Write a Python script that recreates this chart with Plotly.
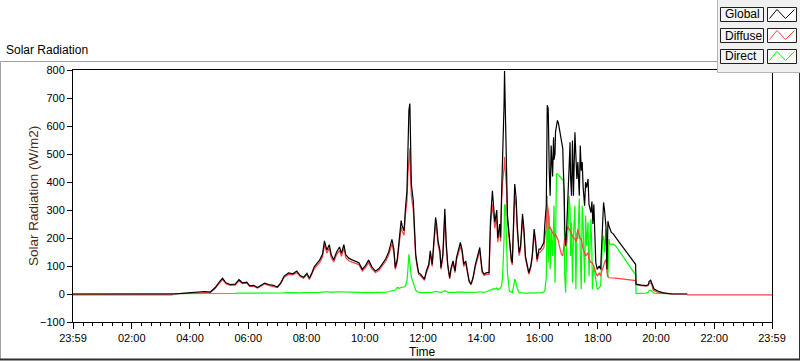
import plotly.graph_objects as go

# ---------------- data (minutes after midnight, W/m2) ----------------
time_min = [
    -1, 203, 206, 230, 254, 270, 282, 292, 301, 307, 314, 323, 333, 341, 348, 357, 363, 371, 379, 385,
    394, 402, 412, 420, 427, 434, 443, 452, 460, 467, 474, 481, 486, 491, 496, 502, 507, 513, 517, 522,
    527, 531, 536, 542, 548, 552, 557, 561, 567, 574, 581, 588, 595, 601, 608, 615, 622, 629, 636, 643,
    649, 656, 660, 663, 667, 672, 675,
    677, 681, 684, 687, 689, 691, 693, 694, 696, 700, 702, 705, 708, 711, 715, 718, 723, 727, 732, 735,
    739, 742, 746, 748, 751, 755, 757, 761, 763, 765, 768, 771, 775, 778, 782, 786, 789, 794, 797, 801,
    804, 808, 811, 815, 819, 823, 828, 833, 837, 839, 842, 846, 851, 856, 859, 863, 866, 868, 872, 874,
    878, 880, 882, 884, 887, 888, 890, 892, 894, 898, 902, 904, 907, 909, 912, 914, 918, 921, 925, 928,
    931, 935, 938, 942, 945, 949, 952, 955, 959, 962, 966, 969, 971, 974,
    976, 978, 980, 982, 984, 987, 989, 990, 992, 993, 995, 997, 999, 1000, 1002, 1004, 1005, 1008, 1009, 1011,
    1012, 1014, 1016, 1019, 1021, 1023, 1024, 1026, 1028, 1030, 1033, 1035, 1037, 1039, 1042, 1044, 1046, 1048, 1050, 1053,
    1055, 1057, 1060, 1062, 1066, 1068, 1069, 1070, 1072, 1076, 1079, 1083, 1086, 1088, 1090, 1092, 1094, 1097, 1099, 1100,
    1101, 1103, 1105, 1108, 1112, 1117,
    1158, 1159, 1170, 1180, 1184, 1186, 1189, 1191, 1194, 1196, 1205, 1213, 1230, 1234, 1264, 1265, 1439,
]

global_wm2 = [
    0, 0, 0, 3, 8, 9, 7, 23, 44, 56, 40, 34, 35, 51, 40, 42, 29, 31, 23, 29,
    39, 34, 31, 25, 40, 64, 75, 72, 82, 66, 60, 74, 56, 75, 97, 110, 121, 142, 190, 157,
    176, 140, 122, 150, 168, 145, 176, 140, 128, 122, 118, 112, 88, 100, 121, 96, 82, 90, 107, 125,
    148, 195, 160, 94, 124, 202, 262,
    244, 226, 309, 369, 513, 656, 680, 513, 393, 333, 250, 142, 106, 76, 71, 65, 53, 82, 106, 154,
    106, 178, 274, 250, 190, 154, 94, 142, 262, 304, 178, 106, 58, 94, 118, 82, 130, 166, 184, 154,
    106, 118, 82, 47, 35, 58, 106, 142, 166, 130, 82, 71, 76, 76, 260, 369, 300, 256, 300, 200,
    250, 202, 363, 459, 674, 796, 662, 459, 280, 196, 124, 112, 291, 393, 340, 250, 148, 170, 286, 232,
    136, 100, 76, 100, 136, 232, 190, 124, 160, 160, 172, 184, 250, 315,
    674, 662, 447, 351, 530, 420, 560, 480, 500, 578, 600, 620, 610, 600, 578, 565, 555, 519, 450, 363,
    232, 172, 232, 351, 471, 542, 420, 351, 548, 351, 578, 471, 411, 471, 351, 530, 440, 471, 380, 315,
    400, 380, 411, 320, 291, 330, 280, 250, 320, 112, 88, 100, 88, 160, 232, 327, 300, 240, 88, 208,
    260, 244, 232, 220, 215, 202,
    106, 35, 32, 30, 33, 45, 49, 40, 22, 18, 10, 5, 1, 0, 0, None, None,
]

diffuse_wm2 = [
    -3, -3, 0, 2, 6, 7, 6, 20, 40, 52, 37, 31, 32, 47, 37, 39, 27, 28, 21, 27,
    36, 31, 28, 23, 37, 60, 70, 68, 76, 62, 56, 69, 52, 70, 90, 102, 112, 132, 175, 146,
    164, 130, 114, 140, 156, 135, 163, 130, 119, 114, 110, 105, 82, 93, 112, 89, 77, 84, 100, 116,
    137, 178, 148, 88, 115, 185, 240,
    225, 210, 285, 330, 430, 500, 520, 440, 350, 300, 230, 130, 98, 70, 66, 60, 49, 76, 98, 142,
    98, 165, 250, 230, 176, 142, 88, 132, 240, 280, 165, 98, 54, 88, 110, 76, 120, 154, 170, 142,
    98, 110, 76, 44, 33, 54, 98, 132, 154, 120, 76, 66, 70, 70, 238, 320, 275, 235, 275, 185,
    230, 188, 330, 400, 450, 489, 430, 380, 260, 182, 115, 104, 265, 350, 310, 230, 137, 158, 262, 214,
    126, 93, 70, 93, 126, 214, 176, 115, 148, 150, 160, 165, 200, 240,
    320, 300, 232, 240, 230, 220, 215, 208, 210, 212, 205, 197, 190, 179, 160, 148, 142, 136, 150, 172,
    200, 170, 228, 240, 232, 226, 220, 215, 208, 200, 197, 186, 200, 232, 208, 197, 197, 172, 160, 148,
    136, 140, 148, 124, 112, 112, 112, 105, 100, 76, 64, 76, 64, 80, 88, 100, 112, 124, 80, 64,
    62, 58, 58, 58, 57, 57,
    48, 33, 30, 28, 30, 38, 40, 35, 15, 12, 6, 3, 0, 0, 0, -3, -3,
]

direct_wm2 = [
    0, 0, 0, 0, 1, 1, 1, 2, 2, 2, 2, 2, 2, 3, 3, 2, 3, 3, 2, 3,
    3, 3, 4, 3, 4, 4, 5, 4, 5, 4, 5, 5, 4, 5, 5, 6, 6, 7, 8, 8,
    7, 8, 7, 8, 8, 7, 8, 7, 6, 6, 7, 6, 5, 6, 6, 5, 5, 6, 6, 7,
    8, 10, 12, 14, 23, 20, 24,
    25, 25, 30, 47, 90, 142, 110, 82, 60, 40, 30, 14, 8, 6, 5, 5, 5, 6, 5, 7,
    6, 8, 10, 9, 8, 7, 6, 8, 10, 12, 9, 7, 5, 6, 5, 6, 7, 8, 8, 7,
    6, 6, 5, 5, 5, 5, 6, 7, 8, 7, 6, 6, 8, 12, 15, 18, 20, 16, 22, 15,
    20, 22, 30, 60, 200, 320, 315, 150, 76, 10, 5, 5, 30, 53, 40, 20, 5, 4, 5, 4,
    3, 3, 3, 3, 3, 4, 4, 3, 4, 5, 5, 8, 10, 60,
    351, 112, 280, 88, 232, 136, 250, 315, 40, 300, 429, 429, 425, 423, 415, 411, 409, 405, 405, 300,
    64, 5, 172, 232, 351, 300, 136, 256, 40, 208, 315, 17, 220, 196, 340, 148, 17, 315, 244, 40,
    280, 172, 256, 64, 268, 150, 17, 60, 100, 40, 17, 22, 29, 112, 196, 208, 148, 232, 70, 64,
    64, 196, 178, 178, 178, 172,
    68, 2, 2, 3, 6, 12, 14, 10, 4, 3, 2, 1, 0, 0, None, None, None,
]

series_names = ["Direct", "Diffuse", "Global"]
series_colors = ["#00ff00", "#ff4040", "#000000"]

x_tick_vals = [-1, 120, 240, 360, 480, 600, 720, 840, 960, 1080, 1200, 1320, 1439]
x_tick_text = ["23:59", "02:00", "04:00", "06:00", "08:00", "10:00", "12:00",
               "14:00", "16:00", "18:00", "20:00", "22:00", "23:59"]
y_tick_vals = [-100, 0, 100, 200, 300, 400, 500, 600, 700, 800]

# ---------------- figure ----------------
W, H = 800, 361
L, R, T, B = 73, 28, 70, 39
PW, PH = W - L - R, H - T - B


def px(x):
    return (x - L) / PW


def py(y):
    return (H - B - y) / PH


FONT = "Liberation Sans, Arial, sans-serif"

fig = go.Figure()
for name, color, vals in zip(series_names, series_colors,
                             [direct_wm2, diffuse_wm2, global_wm2]):
    fig.add_trace(go.Scatter(x=time_min, y=vals, mode="lines", name=name,
                             line=dict(color=color, width=1.2), connectgaps=False,
                             showlegend=False, hoverinfo="skip"))

fig.update_layout(
    width=W, height=H,
    margin=dict(l=L, r=R, t=T, b=B, pad=0),
    paper_bgcolor="white", plot_bgcolor="white",
    font=dict(family=FONT, size=11, color="black"),
    showlegend=False,
)

fig.update_xaxes(
    range=[-1, 1439], tickmode="array", tickvals=x_tick_vals, ticktext=x_tick_text,
    ticks="outside", ticklen=6, tickwidth=1, tickcolor="black",
    showline=True, linecolor="black", linewidth=1, mirror=True,
    showgrid=False, zeroline=False, tickfont=dict(size=11, family=FONT),
    minor=dict(tickmode="linear", tick0=0, dtick=20, ticks="outside", ticklen=3,
               tickcolor="black", showgrid=False),
)
fig.update_yaxes(
    range=[-100, 800], tickmode="array", tickvals=y_tick_vals,
    ticks="outside", ticklen=5, tickwidth=1, tickcolor="black",
    showline=True, linecolor="black", linewidth=1, mirror=True,
    showgrid=False, zeroline=False, tickfont=dict(size=11, family=FONT),
)

shapes = []
# outer frame
shapes.append(dict(type="line", xref="paper", yref="paper", x0=px(0.5), x1=px(717), y0=py(61.5), y1=py(61.5),
                   line=dict(color="#a0a0a0", width=1), layer="above"))
shapes.append(dict(type="line", xref="paper", yref="paper", x0=px(0.5), x1=px(0.5), y0=py(61.5), y1=py(359.5),
                   line=dict(color="#a0a0a0", width=1), layer="above"))
shapes.append(dict(type="line", xref="paper", yref="paper", x0=px(0), x1=px(800), y0=py(359.5), y1=py(359.5),
                   line=dict(color="#303030", width=2), layer="above"))
shapes.append(dict(type="line", xref="paper", yref="paper", x0=px(799.5), x1=px(799.5), y0=py(61.5), y1=py(360),
                   line=dict(color="#303030", width=1), layer="above"))
# legend panel
shapes.append(dict(type="rect", xref="paper", yref="paper", x0=px(717.5), x1=px(801), y0=py(-1), y1=py(72.5),
                   fillcolor="#f0f0f0", line=dict(width=0), layer="above"))
shapes.append(dict(type="line", xref="paper", yref="paper", x0=px(717.5), x1=px(717.5), y0=py(0), y1=py(72.5),
                   line=dict(color="#b4b4b4", width=1), layer="above"))
shapes.append(dict(type="line", xref="paper", yref="paper", x0=px(717.5), x1=px(800), y0=py(72.5), y1=py(72.5),
                   line=dict(color="#b4b4b4", width=1), layer="above"))

legend_rows = ["Global", "Diffuse", "Direct"]
legend_colors = ["#000000", "#ff4040", "#00ff00"]
annotations = []
for i, (lab, col) in enumerate(zip(legend_rows, legend_colors)):
    top = 7.5 + 21 * i
    bot = top + 14
    shapes.append(dict(type="rect", xref="paper", yref="paper", x0=px(720.5), x1=px(763.5),
                       y0=py(bot), y1=py(top), fillcolor="#f4f4f4",
                       line=dict(color="#202020", width=1), layer="above"))
    shapes.append(dict(type="rect", xref="paper", yref="paper", x0=px(767.5), x1=px(796.5),
                       y0=py(bot), y1=py(top), fillcolor="white",
                       line=dict(color="#202020", width=1), layer="above"))
    zx = [769.5, 777, 785.5, 794.5]
    zy = [bot - 3, top + 2, bot - 3, top + 2]
    path = "M " + " L ".join(f"{px(a):.5f},{py(b):.5f}" for a, b in zip(zx, zy))
    shapes.append(dict(type="path", xref="paper", yref="paper", path=path,
                       line=dict(color=col, width=1), layer="above"))
    annotations.append(dict(text=lab, xref="paper", yref="paper", x=px(722.5), y=py((top + bot) / 2),
                            xanchor="left", yanchor="middle", showarrow=False,
                            font=dict(size=12, family=FONT, color="black")))

annotations.append(dict(text="Solar Radiation", xref="paper", yref="paper", x=px(3.5), y=py(50),
                        xanchor="left", yanchor="middle", showarrow=False,
                        font=dict(size=12, family=FONT, color="black")))
annotations.append(dict(text="Time", xref="paper", yref="paper", x=px(422), y=py(352),
                        xanchor="center", yanchor="middle", showarrow=False,
                        font=dict(size=12, family=FONT, color="black")))
annotations.append(dict(text="Solar Radiation (W/m2)", xref="paper", yref="paper", x=px(33), y=py(196),
                        xanchor="center", yanchor="middle", textangle=-90, showarrow=False,
                        font=dict(size=13.5, family=FONT, color="#4a2a14")))

fig.update_layout(shapes=shapes, annotations=annotations)
fig.write_html(
    "out.html",
    config={"displayModeBar": False, "staticPlot": True},
    post_script="document.body.style.margin='0px';document.body.style.overflow='hidden';",
)
